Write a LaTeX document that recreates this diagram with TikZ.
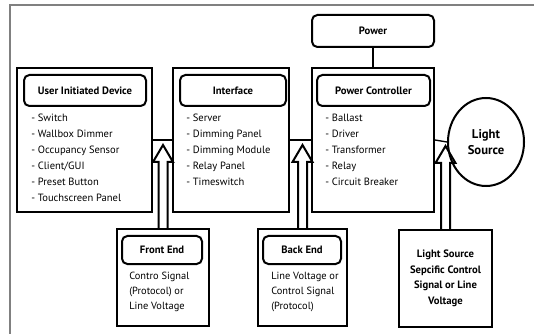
\documentclass[tikz,border=0pt]{standalone}
\usepackage{fontspec}
\setmainfont{PT Sans}
\usetikzlibrary{calc, shapes.geometric}

\begin{document}
\begin{tikzpicture}[x=0.75pt, y=-0.75pt,
  box/.style 2 args={draw, line width=1.5pt, minimum width=#1*0.75pt,
                     minimum height=#2*0.75pt, inner sep=0pt},
  title/.style 2 args={box={#1}{#2}, rounded corners=4pt, font=\bfseries\fontsize{8}{9}\selectfont},
  items/.style={anchor=north west, align=left, inner sep=0pt,
                font=\fontsize{7.9}{12}\selectfont},
  note/.style={anchor=north west, align=left, inner sep=0pt,
                font=\fontsize{7.8}{11.2}\selectfont},
  link/.style={line width=1pt},
  hollow/.style={line width=1.5pt, line join=miter},
]
\useasboundingbox (0,0) rectangle (534,334);
\draw[gray, line width=1.2pt] (10,334) -- (10,5) -- (534,5);

% upper row
\node[box={135}{144}] (uid)   at (84.5,140) {};
\node[box={116}{144}] (iface) at (231,140)  {};
\node[box={122}{144}] (pc)    at (373,140)  {};
\node[box={122}{32}, rounded corners=4pt, font=\bfseries\fontsize{8}{9}\selectfont] (power) at (373,31) {Power};
\node[draw, ellipse, line width=1.5pt, minimum width=76*0.75pt, minimum height=88*0.75pt,
      align=center, font=\bfseries\fontsize{9.5}{12}\selectfont] (light) at (486,142) {Light\\Source};

\node[title={122}{31}] (uidt)   at (85,90.5)    {User Initiated Device};
\node[title={106}{31}] (ifacet) at (233,90.5)   {Interface};
\node[title={113}{31}] (pct)    at (373.5,90.5) {Power Controller};

\node[items] (uidl)   at (31,114)  {- Switch\\- Wallbox Dimmer\\- Occupancy Sensor\\- Client/GUI\\- Preset Button\\- Touchscreen Panel};
\node[items] (ifacel) at (186,114) {- Server\\- Dimming Panel\\- Dimming Module\\- Relay Panel\\- Timeswitch};
\node[items] (pcl)    at (325,114) {- Ballast\\- Driver\\- Transformer\\- Relay\\- Circuit Breaker};

% lower row
\node[box={92}{97}] (fe)  at (163,277.5)   {};
\node[box={89}{97}] (be)  at (302.5,277.5) {};
\node[box={93}{97}, align=center, font=\bfseries\fontsize{8}{11.7}\selectfont] (lss) at (445.5,278.5)
  {Light Source\\Sepcific Control\\Signal or Line\\Voltage};

\node[title={80}{28}] (fet) at (162,250) {Front End};
\node[title={78}{28}] (bet) at (302,250) {Back End};

\node[note] (fen) at (129,272) {Contro Signal\\(Protocol) or\\Line Voltage};
\node[note] (ben) at (271,272) {Line Voltage or\\Control Signal\\(Protocol)};

% connections
\draw[link] (uid.east) -- (iface.west);
\draw[link] (iface.east) -- (pc.west);
\draw[link] (pc.east) -- (light.west);
\draw[link] (power.south) -- (pc.north);

\foreach \n in {fe, be, lss} {
  \draw[hollow] ($(\n.north)+(-4.5,0)$) -- ++(0,-66) -- ++(-5.5,0) -- ++(10,-17)
    -- ++(10,17) -- ++(-5.5,0) -- ++(0,66);
}
\end{tikzpicture}
\end{document}
